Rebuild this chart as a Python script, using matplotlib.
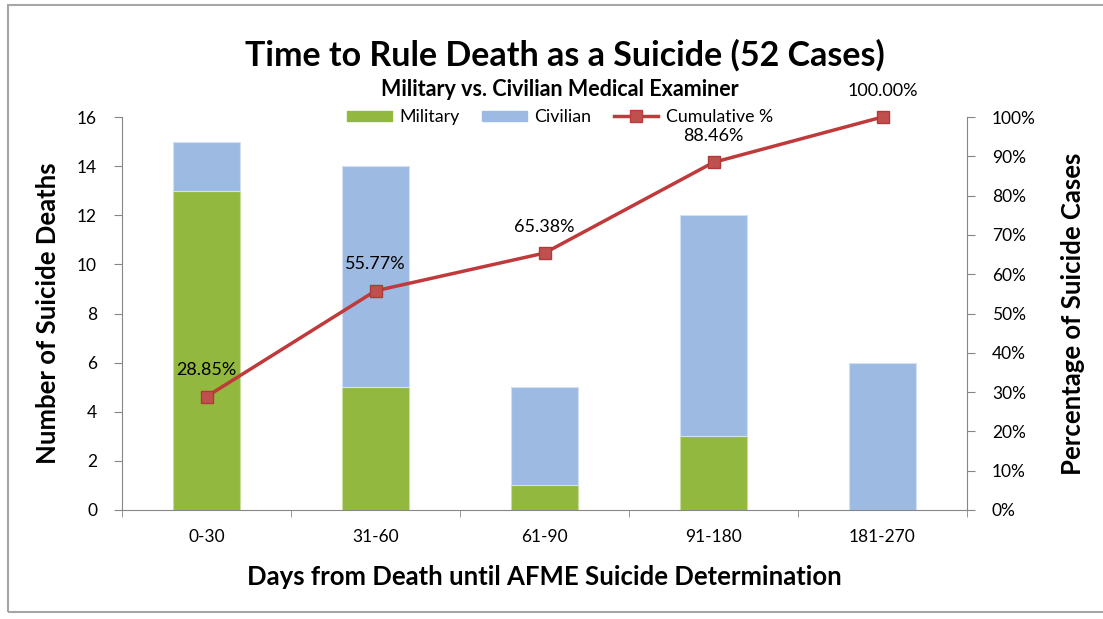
import numpy as np
from matplotlib import pyplot as plt
from matplotlib.patches import Rectangle, Patch
from matplotlib.lines import Line2D

plt.rcParams['font.family'] = ['Lato', 'DejaVu Sans']

# data
categories = ['0-30', '31-60', '61-90', '91-180', '181-270']
military = [13, 5, 1, 3, 0]
civilian = [2, 9, 4, 9, 6]
cumulative = [28.85, 55.77, 65.38, 88.46, 100.00]
cum_labels = ['28.85%', '55.77%', '65.38%', '88.46%', '100.00%']

green = '#93B83F'
blue = '#9DBAE2'
red = '#C0393B'
axis_grey = '#868686'

fig = plt.figure(figsize=(11.03, 6.19), dpi=100)
ax = fig.add_axes([122 / 1103, 1 - 510 / 619, 845 / 1103, 393 / 619])

# outer frame like the excel chart area
fig.patches.append(Rectangle((8 / 1103, 1 - 612 / 619), 1.2, 607 / 619,
                             transform=fig.transFigure, fill=False,
                             edgecolor='#A6A6A6', linewidth=1.5))

x = np.arange(len(categories))
ax.bar(x, military, width=0.40, color=green, edgecolor='#C9DE9A', linewidth=0.8)
ax.bar(x, civilian, width=0.40, bottom=military, color=blue,
       edgecolor='#D3E0F2', linewidth=0.8)

ax.set_xlim(-0.5, len(categories) - 0.5)
ax.set_ylim(0, 16)
ax.set_yticks(range(0, 17, 2))
ax.set_xticks(x)
ax.set_xticklabels(categories, fontsize=12.5)
ax.set_xticks(np.arange(-0.5, len(categories)), minor=True)
ax.tick_params(axis='x', which='major', length=0, pad=14)
ax.tick_params(axis='x', which='minor', length=5, color=axis_grey)
ax.tick_params(axis='y', length=6, color=axis_grey, labelsize=12.5, pad=12)
for s in ['top', 'right']:
    ax.spines[s].set_visible(False)
for s in ['left', 'bottom']:
    ax.spines[s].set_color(axis_grey)

ax.set_ylabel('Number of Suicide Deaths', fontsize=18.5, fontweight='bold', labelpad=12)
ax.set_xlabel('Days from Death until AFME Suicide Determination', fontsize=18.5,
              fontweight='bold', labelpad=14)

ax2 = ax.twinx()
ax2.plot(x, cumulative, color=red, linewidth=2.5, marker='s', markersize=9,
         markerfacecolor='#C0504D', markeredgecolor='#B03A3A', clip_on=False)
ax2.set_ylim(0, 100)
ax2.set_yticks(range(0, 101, 10))
ax2.set_yticklabels([f'{v}%' for v in range(0, 101, 10)])
ax2.tick_params(axis='y', length=6, color=axis_grey, labelsize=12.5, pad=12)
for s in ['top', 'left', 'bottom']:
    ax2.spines[s].set_visible(False)
ax2.spines['right'].set_color(axis_grey)
ax2.set_ylabel('Percentage of Suicide Cases', fontsize=18.5, fontweight='bold', labelpad=18)

for xi, v, lab in zip(x, cumulative, cum_labels):
    ax2.annotate(lab, (xi, v), xytext=(0, 19), textcoords='offset points',
                 ha='center', va='center', fontsize=13)

fig.text(565 / 1103, 1 - 55 / 619, 'Time to Rule Death as a Suicide (52 Cases)',
         ha='center', va='center', fontsize=24.5, fontweight='bold')
fig.text(560 / 1103, 1 - 90 / 619, 'Military vs. Civilian Medical Examiner',
         ha='center', va='center', fontsize=15.5, fontweight='bold')

handles = [Patch(color=green, label='Military'),
           Patch(color=blue, label='Civilian'),
           Line2D([0], [0], color=red, linewidth=2.5, marker='s', markersize=8,
                  markerfacecolor='#C0504D', label='Cumulative %')]
fig.legend(handles=handles, loc='center', bbox_to_anchor=(560 / 1103, 1 - 117 / 619),
           ncol=3, frameon=False, fontsize=12.8, handlelength=2.5, handleheight=0.5,
           columnspacing=1.3, handletextpad=0.4, borderpad=0.1)

plt.savefig('out.png', dpi=100)
